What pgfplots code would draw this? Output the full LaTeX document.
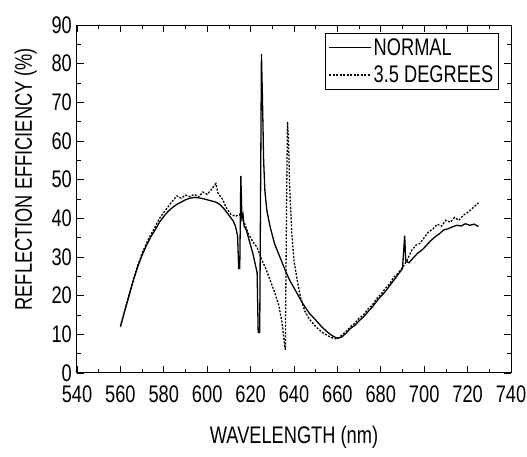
\documentclass[border=0pt]{standalone}
\usepackage{fontspec}
\setmainfont{Liberation Sans}[FakeStretch=0.76]
\usepackage{pgfplots}
\pgfplotsset{compat=1.18}
\begin{document}
\begin{tikzpicture}
\path[use as bounding box] (-77pt,-84pt) rectangle (450pt,373pt);
\begin{axis}[
  scale only axis, width=434pt, height=348pt,
  xmin=540, xmax=740, ymin=0, ymax=90,
  xtick={540,560,...,740}, ytick={0,10,...,90},
  minor x tick num=1, minor y tick num=1,
  tick align=inside, major tick length=7pt, minor tick length=4pt,
  axis line style={line width=1pt},
  every tick/.style={black, line width=0.8pt},
  tick label style={font=\fontsize{24}{28}\selectfont, inner sep=1pt},
  xticklabel style={yshift=-12pt},
  yticklabel style={xshift=-4pt},
  /pgf/number format/assume math mode=true,
  /pgf/number format/1000 sep={},
  xlabel={WAVELENGTH (nm)},
  ylabel={REFLECTION EFFICIENCY (\%)},
  label style={font=\fontsize{24}{28}\selectfont},
  x label style={at={(axis description cs:0.5,0)}, anchor=center, yshift=-64pt},
  y label style={at={(axis description cs:-0.118,0.557)}, anchor=center},
  legend style={at={(rel axis cs:0.972,0.977)}, anchor=north east, draw=black, line width=1pt,
    font=\fontsize{24}{26}\selectfont, inner xsep=3pt, inner ysep=3pt, row sep=5pt, cells={anchor=west}},
  legend image code/.code={\draw[#1] (-4pt,0pt) -- (38pt,0pt);},
]
\addplot[black, line width=1.3pt] coordinates {
(560,12) (562,16) (564,20) (566,24) (568,27.5) (570,30.5) (572,33) (574,35.2) (576,37) (578,39)
(580,40.5) (582,41.8) (584,42.8) (586,43.6) (588,44.2) (590,44.8) (592,45.2) (594,45.4) (596,45.3)
(598,45.1) (600,44.8) (602,44.5) (604,44.2) (606,43.5) (608,42.3) (610,40.8) (612,39.3) (613,38)
(614,35.5) (614.5,27) (615,27) (615.5,51) (616,40) (616.5,41) (617,38) (618,37) (619,35) (620,33)
(621,31) (622,28.5) (623,26) (623.5,10.5) (624.2,10.5) (625,82.5) (625.5,70) (626,55) (626.6,47)
(627.5,42) (629,37.8) (631,33.5) (633.5,30) (636,26.5) (638,24) (641,21) (644,18) (647,15.5)
(650,13.7) (653,11.8) (656,10.3) (658,9.5) (660,9) (662,9.3) (664,10.3) (666,11.5) (668,12.3)
(670,13.5) (672,14.5) (674,15.8) (676,17) (678,18.5) (680,19.8) (682,21) (684,22.5) (686,24)
(688,25.5) (690,27) (691,35.5) (691.5,29) (693,28.5) (695,29.8) (697,31) (699,31.8) (701,33)
(703,34.2) (705,35.2) (707,36) (709,37) (711,37.3) (713,37.8) (715,38.2) (717,38) (719,38.6)
(721,38.2) (723,38.5) (725,37.9)
};
\addlegendentry{NORMAL}
\addplot[black, line width=1.3pt, dash pattern=on 2pt off 1.5pt] coordinates {
(560,12) (562,16.2) (564,20.3) (566,24.3) (568,27.8) (570,31) (572,33.5) (574,35.8) (576,37.8)
(578,40) (580,41.5) (582,43) (584,44.5) (586,45.8) (588,45.2) (590,46) (592,45.6) (594,46.2)
(596,45.5) (598,46.8) (600,46.2) (602,47.5) (604,49) (605,46.5) (607,45) (609,42.5) (611,41)
(613,40.5) (615,41) (617,39) (619,36) (621,34) (623,32.5) (625,29.5) (627,27) (629,24) (631,21)
(633,17.5) (634.5,13) (635.5,8) (636,6) (636.6,45) (637,65) (637.5,60) (638,48) (639,36) (640,29)
(641.5,24) (643,19.5) (645,16) (647,14) (650,12) (653,10.5) (656,9.5) (658,9) (660,8.8) (662,9.8)
(664,10.7) (666,12) (668,12.8) (670,14.2) (672,15) (674,16.5) (676,17.5) (678,19.2) (680,20.3)
(682,21.8) (684,23) (686,24.8) (688,25.8) (690,27.3) (692,29) (694,31.5) (696,33) (698,33.5)
(700,35) (702,36.5) (704,37.2) (706,38.5) (708,38) (710,39.5) (712,39) (714,40.2) (716,39.5)
(718,40.8) (720,41.5) (722,42.5) (724,43.5) (725,44)
};
\addlegendentry{3.5 DEGREES}
\end{axis}
\end{tikzpicture}
\end{document}
